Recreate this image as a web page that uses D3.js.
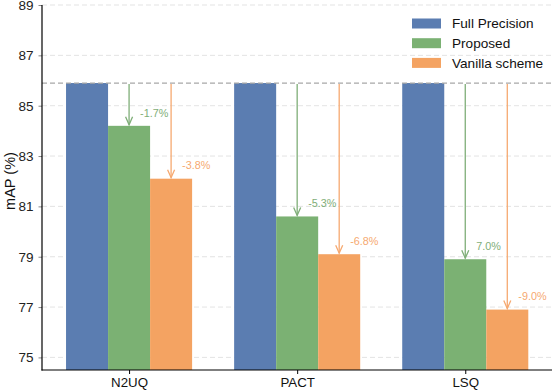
<!DOCTYPE html>
<html>
<head>
<meta charset="utf-8">
<script src="https://cdn.jsdelivr.net/npm/d3@7"></script>
<style>
  body { margin: 0; background: #fff; }
  svg text { font-family: "Liberation Sans", Arial, sans-serif; }
</style>
</head>
<body>
<div id="chart"></div>
<script>
const methods = ["N2UQ", "PACT", "LSQ"];
const seriesNames = ["Full Precision", "Proposed", "Vanilla scheme"];
const fullPrecision = [85.9, 85.9, 85.9];
const proposed = [84.2, 80.6, 78.9];
const vanilla = [82.1, 79.1, 76.9];
const proposedLabels = ["-1.7%", "-5.3%", "7.0%"];
const vanillaLabels = ["-3.8%", "-6.8%", "-9.0%"];
const yTicks = [75, 77, 79, 81, 83, 85, 87, 89];

const colors = ["#5b7db1", "#7bb173", "#f4a362"];
const arrowColors = ["#7fae78", "#f6a970"];

const width = 554, height = 392;
const svg = d3.select("#chart").append("svg")
  .attr("width", width).attr("height", height);

const x = d3.scaleLinear().domain([-0.518, 2.516]).range([42, 552]);
const y = d3.scaleLinear().domain([74.5, 89]).range([370, 5]);
const barW = x(0.25) - x(0);

// grid
svg.append("g").selectAll("line").data(yTicks).enter().append("line")
  .attr("x1", 42).attr("x2", 552)
  .attr("y1", d => y(d)).attr("y2", d => y(d))
  .attr("stroke", "#dcdcdc").attr("stroke-width", 0.8)
  .attr("stroke-dasharray", "5,3");

// bars
const series = [fullPrecision, proposed, vanilla];
series.forEach((vals, s) => {
  svg.append("g").selectAll("rect").data(vals).enter().append("rect")
    .attr("x", (d, i) => x(i + (s - 1) * 0.25) - barW / 2)
    .attr("width", barW)
    .attr("y", d => y(d))
    .attr("height", d => y(74.5) - y(d))
    .attr("fill", colors[s]);
});

// full precision reference line
svg.append("line")
  .attr("x1", 42).attr("x2", 552)
  .attr("y1", y(fullPrecision[0])).attr("y2", y(fullPrecision[0]))
  .attr("stroke", "#a8a8a8").attr("stroke-width", 1.2)
  .attr("stroke-dasharray", "5,3");

// arrows + labels
function arrow(cx, from, to, color) {
  const g = svg.append("g").attr("stroke", color).attr("stroke-width", 1.3).attr("fill", "none");
  g.append("line").attr("x1", cx).attr("x2", cx).attr("y1", y(from) + 1).attr("y2", y(to) - 1);
  g.append("path").attr("d", `M${cx - 3.5},${y(to) - 9} L${cx},${y(to) - 1} L${cx + 3.5},${y(to) - 9}`);
}
[[proposed, proposedLabels, 0], [vanilla, vanillaLabels, 1]].forEach(([vals, labels, k]) => {
  vals.forEach((v, i) => {
    const cx = x(i + k * 0.25);
    arrow(cx, fullPrecision[i], v, arrowColors[k]);
    svg.append("text")
      .attr("x", cx + 11).attr("y", y(v) - 13)
      .attr("dy", "0.35em")
      .attr("font-size", 10.8)
      .attr("fill", arrowColors[k])
      .text(labels[i]);
  });
});

// axes
const yAxis = svg.append("g").attr("transform", "translate(42,0)")
  .call(d3.axisLeft(y).tickValues(yTicks).tickSize(3.5).tickPadding(5));
yAxis.select(".domain").remove();
yAxis.selectAll(".tick line").attr("stroke", "#888");
yAxis.selectAll("text").attr("font-size", 13.5).attr("fill", "#222")
  .style("font-family", "Liberation Sans, Arial, sans-serif");

const xAxis = svg.append("g").attr("transform", "translate(0,370)")
  .call(d3.axisBottom(x).tickValues([0, 1, 2]).tickFormat(i => methods[i]).tickSize(4).tickPadding(4));
xAxis.select(".domain").remove();
xAxis.selectAll("text").attr("font-size", 13.3).attr("fill", "#111")
  .style("font-family", "Liberation Sans, Arial, sans-serif");

svg.append("line").attr("x1", 42).attr("x2", 42).attr("y1", 5).attr("y2", 370.5)
  .attr("stroke", "#000").attr("stroke-width", 1.2);
svg.append("line").attr("x1", 41.5).attr("x2", 552).attr("y1", 370).attr("y2", 370)
  .attr("stroke", "#000").attr("stroke-width", 1.2);

svg.append("text")
  .attr("transform", "translate(10,181) rotate(-90)")
  .attr("text-anchor", "middle").attr("dy", "0.35em")
  .attr("font-size", 14.5).attr("fill", "#111")
  .text("mAP (%)");

// legend
const legend = svg.append("g").attr("transform", "translate(412,23.5)");
seriesNames.forEach((name, i) => {
  const row = legend.append("g").attr("transform", `translate(0,${i * 19.7})`);
  row.append("rect").attr("x", 0).attr("y", -5).attr("width", 29).attr("height", 10).attr("fill", colors[i]);
  row.append("text").attr("x", 40).attr("dy", "0.35em")
    .attr("font-size", 13.6).attr("fill", "#111").text(name);
});
</script>
</body>
</html>
